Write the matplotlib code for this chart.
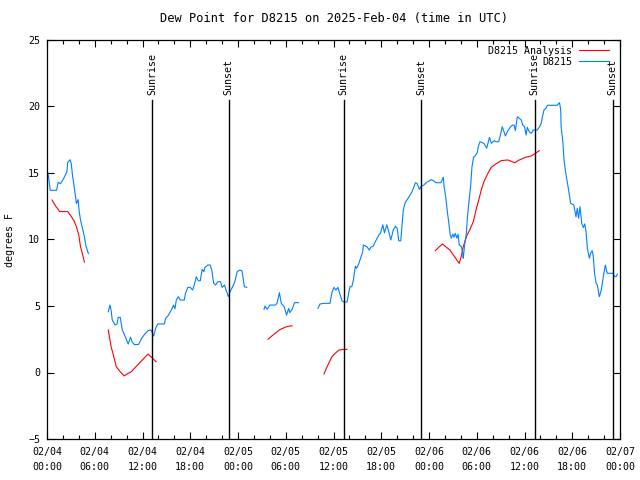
import numpy as np
import matplotlib
matplotlib.use("Agg")
import matplotlib.pyplot as plt

nan = np.nan

# hours since 2025-02-04 00:00 UTC, dew point in degrees F (nan = gap in record)
dew_hours = [0.1, 0.2, 0.4, 1.2, 1.4, 1.7, 2.1, 2.5, 2.6, 2.9, 3.05, 3.2, 3.5, 3.7, 3.9, 4.05,
             4.2, 4.5, 4.7, 4.9, 5.05, 5.2, 6.5,
             7.7, 7.9, 8.05, 8.2, 8.55, 8.8, 8.96, 9.2, 9.46, 9.8, 10.2, 10.5, 10.7, 10.97, 11.5,
             11.9, 12.3, 12.7, 13.07, 13.4, 13.66, 13.9, 14.75, 14.9, 15.25, 15.67, 15.9, 16.08,
             16.25, 16.5, 16.75, 17.25, 17.4, 17.7, 18.0, 18.3, 18.5, 18.76, 19.0, 19.26, 19.5,
             19.7, 19.85, 20.2, 20.5, 20.7, 20.95, 21.2, 21.45, 21.8, 22.0, 22.3, 22.5, 22.8, 23.0,
             23.37, 23.6, 23.9, 24.2, 24.5, 24.8, 25.1, 26.0,
             27.27, 27.4, 27.67, 28.0, 28.7, 28.9, 29.2, 29.44, 29.8, 30.1, 30.37, 30.5, 30.8,
             31.1, 31.6, 32.5,
             34.05, 34.3, 34.8, 35.56, 35.8, 36.06, 36.3, 36.56, 36.8, 37.07, 37.3, 37.7, 37.9,
             38.07, 38.3, 38.5, 38.74, 38.9, 39.16, 39.4, 39.67, 39.75, 40.2, 40.5, 40.67, 41.0,
             41.25, 41.7, 41.9, 42.2, 42.4, 42.7, 42.94, 43.2, 43.5, 43.77, 44.0, 44.2, 44.45,
             44.77, 45.0, 45.45, 45.87, 46.3, 46.5, 46.8, 47.0, 47.37, 47.7, 48.3, 48.6, 48.9,
             49.5, 49.8, 49.9, 50.1, 50.3, 50.5, 50.65, 50.8, 51.0, 51.14, 51.3, 51.5, 51.65,
             51.8, 52.07, 52.24, 52.3, 52.5, 52.7, 52.8, 53.0, 53.24, 53.4, 53.6, 53.8, 54.06,
             54.2, 54.4, 54.9, 55.25, 55.6, 55.83, 56.17, 56.4, 56.76, 57.0, 57.2, 57.43, 57.6,
             57.9, 58.27, 58.5, 58.7, 58.85, 59.1, 59.35, 59.6, 59.77, 60.0, 60.2, 60.35, 60.6,
             60.86, 61.1, 61.6, 61.9, 62.1, 62.3, 62.45, 62.7, 62.87, 64.1, 64.4, 64.55, 64.6,
             64.8, 64.97, 65.13, 65.3, 65.47, 65.63, 65.8, 66.2, 66.47, 66.63, 66.8, 66.97, 67.2,
             67.4, 67.57, 67.73, 67.9, 68.15, 68.3, 68.5, 68.65, 68.8, 69.0, 69.15, 69.4, 69.65,
             69.9, 70.15, 70.4, 71.1, 71.35, 71.5, 71.67]
dew_f = [15.0, 14.7, 13.7, 13.7, 14.3, 14.2, 14.6, 15.1, 15.8, 16.0, 15.7, 14.85, 13.6, 12.7,
         13.0, 12.1, 11.5, 10.7, 10.2, 9.5, 9.2, 8.95, nan,
         4.57, 5.07, 4.7, 3.95, 3.57, 3.65, 4.15, 4.15, 3.2, 2.74, 2.14, 2.65, 2.3, 2.1, 2.1,
         2.57, 2.9, 3.14, 3.2, 2.74, 3.32, 3.65, 3.65, 4.07, 4.3, 4.75, 5.07, 4.8,
         5.45, 5.7, 5.45, 5.45, 5.95, 6.4, 6.4, 6.2, 6.58, 7.2, 6.9, 6.9, 7.76,
         7.58, 7.9, 8.08, 8.08, 7.7, 6.7, 6.58, 6.83, 6.83, 6.4, 6.58, 6.2, 5.7, 6.07,
         6.5, 6.83, 7.58, 7.7, 7.65, 6.45, 6.4, nan,
         4.75, 5.0, 4.75, 5.07, 5.07, 5.2, 6.0, 5.2, 4.95, 4.32, 4.82, 4.5, 4.75,
         5.25, 5.25, nan,
         4.82, 5.15, 5.2, 5.2, 6.0, 6.4, 6.2, 6.4, 5.9, 5.4, 5.3, 5.3, 5.95,
         6.45, 6.45, 6.95, 8.0, 7.83, 8.16, 8.58, 9.08, 9.59, 9.46, 9.2, 9.41, 9.5,
         9.83, 10.34, 10.47, 11.1, 10.5, 11.1, 10.6, 9.96, 10.7, 11.0, 10.84, 9.9, 9.9,
         12.2, 12.77, 13.17, 13.6, 14.27, 14.22, 13.77, 14.0, 14.1, 14.3, 14.5, 14.4, 14.27,
         14.27, 14.68, 13.97, 13.2, 12.1, 11.2, 10.4, 10.1, 10.4, 10.17, 10.47, 10.1, 10.4,
         9.59, 9.46, 8.96, 8.59, 9.71, 10.47, 11.47, 12.72, 14.1, 15.47, 16.2, 16.28, 16.53,
         17.0, 17.35, 17.23, 16.86, 17.68, 17.23, 17.43, 17.35, 17.35, 17.93, 18.48, 18.1, 17.78,
         18.18, 18.48, 18.6, 18.6, 18.18, 19.23, 19.1, 18.98, 18.6, 18.48, 17.86, 18.43, 18.1,
         17.98, 18.23, 18.23, 18.48, 18.74, 19.36, 19.74, 19.86, 20.09, 20.09, 20.29, 19.74, 18.48,
         17.48, 15.98, 15.2, 14.6, 13.97, 13.35, 12.72, 12.6, 11.7, 12.35, 11.6, 12.47, 11.2,
         10.9, 11.17, 10.6, 9.34, 8.59, 8.96, 9.16, 8.7, 7.46, 6.7, 6.58, 5.7, 6.2,
         7.2, 8.08, 7.46, 7.46, 7.2, 7.2, 7.4]

ana_hours = [0.63, 1.13, 1.6, 2.6, 3.0, 3.4, 3.7, 4.0, 4.2, 4.5, 4.7, 6.0,
             7.7, 8.05, 8.4, 8.7, 9.2, 9.7, 10.2, 10.6, 11.1, 11.9, 12.7, 13.15, 13.7, 20.0,
             27.77, 28.4, 29.2, 29.9, 30.5, 30.8, 32.0,
             34.8, 35.2, 35.8, 36.3, 36.7, 37.3, 37.7, 43.0,
             48.8, 49.3, 49.7, 50.1, 50.64, 51.06, 51.5, 51.8, 52.07, 52.3, 52.74, 53.15, 53.57,
             53.9, 54.25, 54.57, 54.9, 55.4, 55.83, 56.4, 57.07, 57.9, 58.77, 59.35, 60.1, 60.86,
             61.36, 61.86]
ana_f = [12.97, 12.47, 12.1, 12.1, 11.77, 11.4, 10.96, 10.3, 9.5, 8.8, 8.3, nan,
         3.2, 1.94, 1.19, 0.44, 0.06, -0.26, -0.06, 0.06, 0.39, 0.89, 1.39, 1.14, 0.81, nan,
         2.5, 2.82, 3.2, 3.4, 3.5, 3.5, nan,
         -0.11, 0.44, 1.19, 1.49, 1.69, 1.74, 1.74, nan,
         9.16, 9.46, 9.66, 9.46, 9.2, 8.83, 8.46, 8.2, 8.76, 9.46, 10.26, 10.77, 11.34,
         12.2, 12.97, 13.72, 14.35, 14.97, 15.43, 15.68, 15.93, 15.98, 15.77, 15.98, 16.18, 16.28,
         16.48, 16.68]

sunrise_hours = [13.2, 37.3, 61.3]
sunset_hours = [22.85, 47.0, 71.1]

tick_hours = list(range(0, 73, 6))
tick_labels = ["02/04\n00:00", "02/04\n06:00", "02/04\n12:00", "02/04\n18:00",
               "02/05\n00:00", "02/05\n06:00", "02/05\n12:00", "02/05\n18:00",
               "02/06\n00:00", "02/06\n06:00", "02/06\n12:00", "02/06\n18:00",
               "02/07\n00:00"]

plt.rcParams['font.family'] = ['DejaVu Sans Mono']
plt.rcParams['font.size'] = 7.2

fig = plt.figure(figsize=(6.4, 4.8), dpi=100)
ax = fig.add_axes([47/640, 1 - 439/480, 573/640, 399/480])

ax.plot(ana_hours, ana_f, color="#ff0000", lw=0.8, label="D8215 Analysis")
ax.plot(dew_hours, dew_f, color="#0080ff", lw=0.8, label="D8215")

# sunrise / sunset markers
for h in sunrise_hours:
    ax.plot([h, h], [-5, 20.5], color="black", lw=1)
    ax.text(h, 20.9, "Sunrise", rotation=90, ha="center", va="bottom")
for h in sunset_hours:
    ax.plot([h, h], [-5, 20.5], color="black", lw=1)
    ax.text(h, 20.9, "Sunset", rotation=90, ha="center", va="bottom")

ax.set_xlim(0, 72)
ax.set_ylim(-5, 25)
ax.set_xticks(tick_hours)
ax.set_xticklabels(tick_labels, linespacing=1.6)
ax.set_xticks(range(0, 73, 2), minor=True)
ax.set_yticks(range(-5, 26, 5))
ax.tick_params(which="both", direction="in", top=True, right=True)
ax.tick_params(which="major", length=5, width=0.8, pad=5)
ax.tick_params(which="minor", length=3, width=0.8)
ax.tick_params(axis="x", which="major", pad=6)
for s in ax.spines.values():
    s.set_linewidth(0.9)

ax.set_title("Dew Point for D8215 on 2025-Feb-04 (time in UTC)", pad=13)
fig.text(10/640, 1 - 240/480, "degrees F", rotation=90, ha="center", va="center")

ax.legend(loc="upper right", bbox_to_anchor=(1 - 5/573, 1), frameon=False,
          markerfirst=False, handlelength=3.0, borderaxespad=0.2,
          labelspacing=0.1, handletextpad=0.7)

fig.savefig("out.png", dpi=100)
